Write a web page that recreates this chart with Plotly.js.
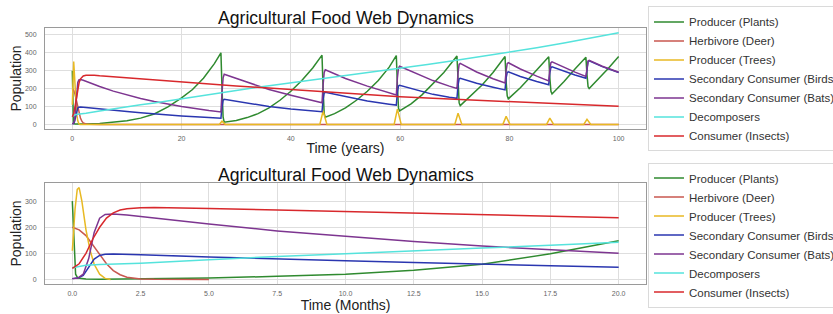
<!DOCTYPE html>
<html>
<head>
<meta charset="utf-8">
<script src="https://cdn.plot.ly/plotly-3.0.1.min.js"></script>
<style>
html,body{margin:0;padding:0;overflow:hidden;background:#fff;}
#chart{width:870px;height:314px;}
</style>
</head>
<body>
<div id="chart"></div>
<script>
// ---- Data (time, population) ----
const seriesNames = ["Producer (Plants)", "Herbivore (Deer)", "Producer (Trees)",
  "Secondary Consumer (Birds)", "Secondary Consumer (Bats)", "Decomposers", "Consumer (Insects)"];

const plantsData = [[0,300],[0.04,200],[0.08,80],[0.12,20],[0.2,5],[0.5,2],[1,1],[2.5,2],[5,5],[7.5,12],[10,20],[12.5,35],[15,58],[17.5,98],[20,148],[22,195],[24,258],[26,340],[27.2,400],[27.4,200],[27.6,40],[27.8,12],
  [30,22],[32,38],[34,60],[36,92],[38,135],[40,185],[42,245],[44,315],[45.7,387],[45.9,200],[46.1,60],[46.3,40],
  [48,60],[50,92],[52,135],[54,185],[56,245],[58,320],[59.3,385],[59.5,220],[59.7,90],[59.9,75],
  [62,115],[64,165],[66,225],[68,290],[70.4,382],[70.6,220],[70.8,120],[71.0,105],
  [73,160],[75,220],[77,290],[79.2,380],[79.4,240],[79.6,160],[79.8,143],
  [82,205],[84,270],[86,335],[87.2,378],[87.4,260],[87.6,185],[87.8,170],
  [90,240],[92,310],[94,375],[94.2,280],[94.4,210],[94.6,200],[96,245],[98,310],[100,380]];

const deerData = [[0,200],[0.25,190],[0.5,168],[0.75,132],[1.0,95],[1.25,60],[1.5,34],[1.75,18],[2.0,8],[2.5,2],[3,0.5],[5,0],[100,0]];

const treesData = [[0,110],[0.1,270],[0.18,345],[0.25,352],[0.35,300],[0.5,190],[0.65,112],[0.8,58],[1.0,20],[1.2,4],[1.4,0],[26.9,0],[27.4,18],[28.0,0],
  [45.3,0],[45.9,75],[46.6,0],[58.9,0],[59.5,85],[60.2,0],[70.0,0],[70.6,62],[71.3,0],[78.8,0],[79.4,45],[80.1,0],
  [86.8,0],[87.4,35],[88.1,0],[93.6,0],[94.2,28],[94.9,0],[100,0]];

const birdsData = [[0,3],[0.2,5],[0.4,15],[0.6,45],[0.8,78],[1.0,92],[1.2,96],[1.5,97],[2.5,95],[5,86],[7.5,78],[10,72],[12.5,65],[15,58],[17.5,52],[20,47],[25,38],[27.2,34],[27.4,100],[27.6,135],[27.8,140],
  [32,118],[36,100],[40,86],[44,75],[45.7,71],[45.9,140],[46.1,175],[46.3,180],
  [50,155],[54,131],[58,113],[59.3,108],[59.5,180],[59.7,215],[59.9,219],
  [63,192],[66,168],[69,152],[70.4,146],[70.6,220],[70.8,255],[71.0,258],
  [74,230],[77,208],[79.2,193],[79.4,260],[79.6,290],[79.8,294],
  [82,268],[85,240],[87.2,222],[87.4,290],[87.6,318],[87.8,322],
  [90,297],[92,276],[94,258],[94.2,320],[94.4,352],[94.6,356],[97,323],[100,290]];

const batsData = [[0,3],[0.2,5],[0.4,20],[0.6,80],[0.8,180],[1.0,235],[1.2,249],[1.5,251],[2,247],[2.5,241],[5,212],[7.5,186],[10,165],[12.5,145],[15,128],[17.5,113],[20,100],[25,78],[27.2,70],[27.4,180],[27.6,260],[27.8,280],
  [32,235],[36,195],[40,163],[44,133],[45.7,121],[45.9,220],[46.1,290],[46.3,305],
  [50,257],[54,214],[58,175],[59.3,164],[59.5,260],[59.7,315],[59.9,325],
  [63,282],[66,245],[69,214],[70.4,201],[70.6,290],[70.8,335],[71.0,341],
  [74,293],[77,255],[79.2,232],[79.4,300],[79.6,340],[79.8,345],
  [82,310],[85,270],[87.2,243],[87.4,310],[87.6,345],[87.8,350],
  [90,318],[92,292],[94,268],[94.2,330],[94.4,355],[94.6,358],[97,325],[100,292]];

const decompData = [[0,45],[0.25,50],[0.5,54],[1,57],[2.5,62],[5,75],[7.5,88],[10,98],[12.5,110],[15,120],[17.5,131],[20,142],[25,165],[30,190],[35,212],[40,232],[45,252],[50,272],[55,292],[60,313],[65,335],[70,357],[75,380],[80,403],[85,428],[90,455],[95,483],[100,513]];

const insectsData = [[0,42],[0.25,60],[0.5,100],[0.75,155],[1.0,200],[1.25,235],[1.5,255],[1.75,266],[2.0,271],[2.5,275],[3,276],[4,275],[5,272],[7.5,266],[10,260],[12.5,254],[15,248],[17.5,241],[20,236],[30,215],[40,195],[50,175],[60,155],[70,140],[80,126],[90,113],[100,102]];

const seriesData = [plantsData, deerData, treesData, birdsData, batsData, decompData, insectsData];
const seriesColors = ["#2f8a2f", "#c8574f", "#e8b923", "#2a36b0", "#7d3590", "#55e3dc", "#d8282c"];

const topTicks = [0, 20, 40, 60, 80, 100];
const bottomTicks = [0, 2.5, 5, 7.5, 10, 12.5, 15, 17.5, 20];
const topYTicks = [0, 100, 200, 300, 400, 500];
const bottomYTicks = [0, 100, 200, 300];
const chartTitle = "Agricultural Food Web Dynamics";

// ---- Build traces ----
const traces = [];
seriesData.forEach((d, i) => {
  traces.push({
    x: d.map(p => p[0]), y: d.map(p => p[1]),
    type: 'scatter', mode: 'lines', name: seriesNames[i],
    line: {color: seriesColors[i], width: 1.5},
    xaxis: 'x', yaxis: 'y', legend: 'legend'
  });
});
seriesData.forEach((d, i) => {
  const sub = d.filter(p => p[0] <= 20);
  traces.push({
    x: sub.map(p => p[0]), y: sub.map(p => p[1]),
    type: 'scatter', mode: 'lines', name: seriesNames[i],
    line: {color: seriesColors[i], width: 1.5},
    xaxis: 'x2', yaxis: 'y2', legend: 'legend2'
  });
});

const tickFont = {family: 'Liberation Sans, Arial, sans-serif', size: 7, color: '#666'};
const axTitleFont = {family: 'Liberation Sans, Arial, sans-serif', size: 14, color: '#222'};
const baseAxis = {
  showgrid: true, gridcolor: '#dedede', gridwidth: 1,
  showline: true, mirror: true, linecolor: '#9a9a9a', linewidth: 1,
  zeroline: false, ticks: '', tickfont: tickFont, automargin: false
};
const legendBase = {
  x: 1.0033, xanchor: 'left', yanchor: 'top',
  bgcolor: '#fff', bordercolor: '#dadada', borderwidth: 1,
  font: {family: 'Liberation Sans, Arial, sans-serif', size: 11.5, color: '#333'}
};

const layout = {
  width: 870, height: 314,
  margin: {l: 45, r: 224, t: 28, b: 30, autoexpand: false},
  paper_bgcolor: '#fff', plot_bgcolor: '#fff',
  showlegend: true,
  font: {family: 'Liberation Sans, Arial, sans-serif'},
  xaxis: Object.assign({}, baseAxis, {domain: [0, 1], anchor: 'y', range: [-5, 105], tickvals: topTicks,
    ticklabelstandoff: 3, title: {text: 'Time (years)', font: axTitleFont, standoff: 1}}),
  yaxis: Object.assign({}, baseAxis, {domain: [0.6055, 1], anchor: 'x', range: [-25.7, 539], tickvals: topYTicks,
    ticklabelstandoff: 6, title: {text: 'Population', font: axTitleFont, standoff: 0}}),
  xaxis2: Object.assign({}, baseAxis, {domain: [0, 1], anchor: 'y2', range: [-1, 21], tickvals: bottomTicks, tickformat: '.1f',
    ticklabelstandoff: 3, title: {text: 'Time (Months)', font: axTitleFont, standoff: 1}}),
  yaxis2: Object.assign({}, baseAxis, {domain: [0, 0.3945], anchor: 'x2', range: [-17.6, 369.6], tickvals: bottomYTicks,
    ticklabelstandoff: 6, title: {text: 'Population', font: axTitleFont, standoff: 0}}),
  legend: Object.assign({}, legendBase, {y: 1.084}),
  legend2: Object.assign({}, legendBase, {y: 0.4746}),
  annotations: [
    {text: chartTitle, xref: 'paper', yref: 'paper', x: 0.5, y: 1.039, xanchor: 'center', yanchor: 'middle',
     showarrow: false, font: {family: 'Liberation Sans, Arial, sans-serif', size: 17.6, color: '#111'}},
    {text: chartTitle, xref: 'paper', yref: 'paper', x: 0.5, y: 0.4277, xanchor: 'center', yanchor: 'middle',
     showarrow: false, font: {family: 'Liberation Sans, Arial, sans-serif', size: 17.6, color: '#111'}}
  ]
};

Plotly.newPlot('chart', traces, layout, {staticPlot: true, displayModeBar: false});
</script>
</body>
</html>
